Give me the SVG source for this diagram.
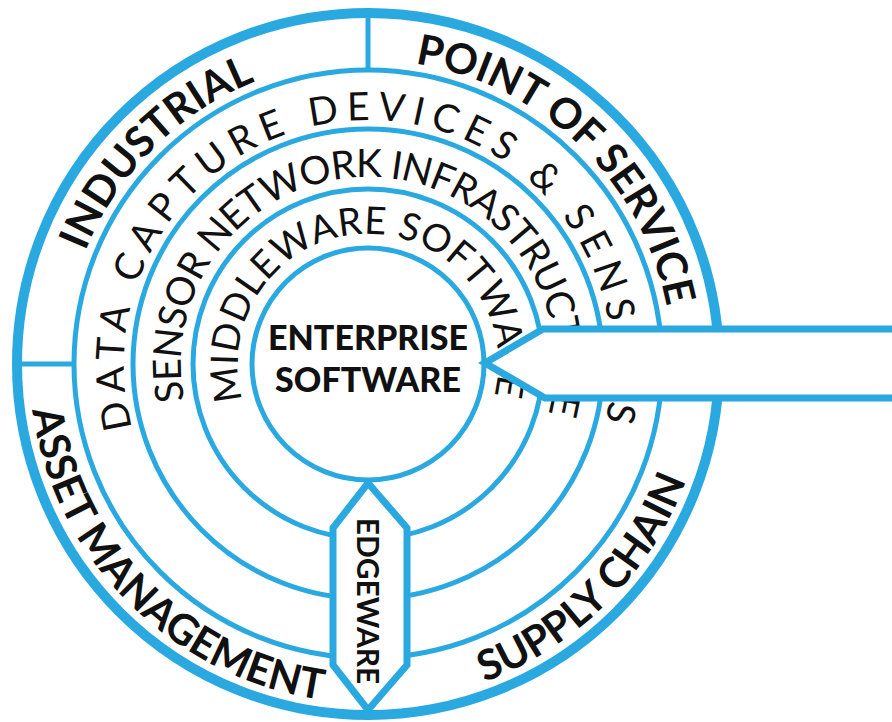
<svg xmlns="http://www.w3.org/2000/svg" width="892" height="722" viewBox="0 0 892 722">
  <defs>
    <style>
      .ring { fill: none; stroke: #2AA8E0; stroke-width: 5; }
      .outer { fill: none; stroke: #2AA8E0; stroke-width: 10; }
      .div { stroke: #2AA8E0; stroke-width: 5; fill: none; }
      .lab { font-family: Lato, "Open Sans", "Liberation Sans", sans-serif; fill: #111; }
      .segb { font-size: 42px; font-weight: 700; }
      .box { fill: #fff; stroke: #2AA8E0; stroke-width: 7; stroke-linejoin: miter; }
    </style>
    <path id="pInd" d="M582.96,578.96 A304,304 0 1 1 153.04,149.04 A304,304 0 1 1 582.96,578.96"/>
    <path id="pPos" d="M156.8,582.7 A304,304 0 1 1 579.2,145.3 A304,304 0 1 1 156.8,582.7"/>
    <path id="pData" d="M368,608 A244,244 0 1 1 368,120 A244,244 0 1 1 368,608"/>
    <path id="pSens" d="M361.47,550.89 A187,187 0 1 1 374.53,177.11 A187,187 0 1 1 361.47,550.89"/>
    <path id="pMid" d="M370.27,493.98 A130,130 0 1 1 365.73,234.02 A130,130 0 1 1 370.27,493.98"/>
    <path id="pAsset" d="M607,125 A338,338 0 1 0 129,603 A338,338 0 1 0 607,125"/>
    <path id="pSupply" d="M129,125 A338,338 0 1 0 607,603 A338,338 0 1 0 129,125"/>
  </defs>
  <rect width="892" height="722" fill="#fff"/>

  <g id="circles">
    <circle class="outer" cx="368" cy="364" r="351"/>
    <circle class="ring" cx="368" cy="364" r="294"/>
    <circle class="ring" cx="368" cy="364" r="235"/>
    <circle class="ring" cx="368" cy="364" r="175"/>
    <circle class="ring" cx="368" cy="364" r="116"/>
  </g>

  <g id="dividers">
    <line class="div" x1="368" y1="14" x2="368" y2="70"/>
    <line class="div" x1="18" y1="364" x2="74" y2="364"/>
  </g>

  <g id="industrial">
    <text class="lab segb"><textPath href="#pInd" startOffset="50%" text-anchor="middle">INDUSTRIAL</textPath></text>
  </g>
  <g id="point-of-service">
    <text class="lab segb"><textPath href="#pPos" startOffset="50%" text-anchor="middle">POINT OF SERVICE</textPath></text>
  </g>
  <g id="asset-management">
    <text class="lab segb"><textPath href="#pAsset" startOffset="50%" text-anchor="middle">ASSET MANAGEMENT</textPath></text>
  </g>
  <g id="supply-chain">
    <text class="lab segb"><textPath href="#pSupply" startOffset="50%" text-anchor="middle">SUPPLY CHAIN</textPath></text>
  </g>

  <g id="data-capture">
    <text class="lab" font-size="39" letter-spacing="7.5"><textPath href="#pData" startOffset="50%" text-anchor="middle">DATA CAPTURE DEVICES &amp; SENSORS</textPath></text>
  </g>
  <g id="sensor-network">
    <text class="lab" font-size="39" letter-spacing="-1"><textPath href="#pSens" startOffset="50%" text-anchor="middle">SENSOR NETWORK INFRASTRUCTURE</textPath></text>
  </g>
  <g id="middleware">
    <text class="lab" font-size="38" letter-spacing="0.5"><textPath href="#pMid" startOffset="50%" text-anchor="middle">MIDDLEWARE SOFTWARE</textPath></text>
  </g>

  <g id="enterprise-software">
    <text class="lab" x="368" y="350" font-size="34" font-weight="900" text-anchor="middle">ENTERPRISE</text>
    <text class="lab" x="368" y="392" font-size="34" font-weight="900" text-anchor="middle">SOFTWARE</text>
  </g>

  <g id="edgeware">
    <polygon class="box" points="368,483 407,528 407,665 368,710 333,665 333,528"/>
    <text class="lab" font-size="30" font-weight="700" transform="translate(368,601) rotate(90)" x="0" y="11" text-anchor="middle">EDGEWARE</text>
  </g>

  <g id="callout">
    <polygon class="box" points="900,329 543,329 485,363 545,398 900,398"/>
  </g>
</svg>
